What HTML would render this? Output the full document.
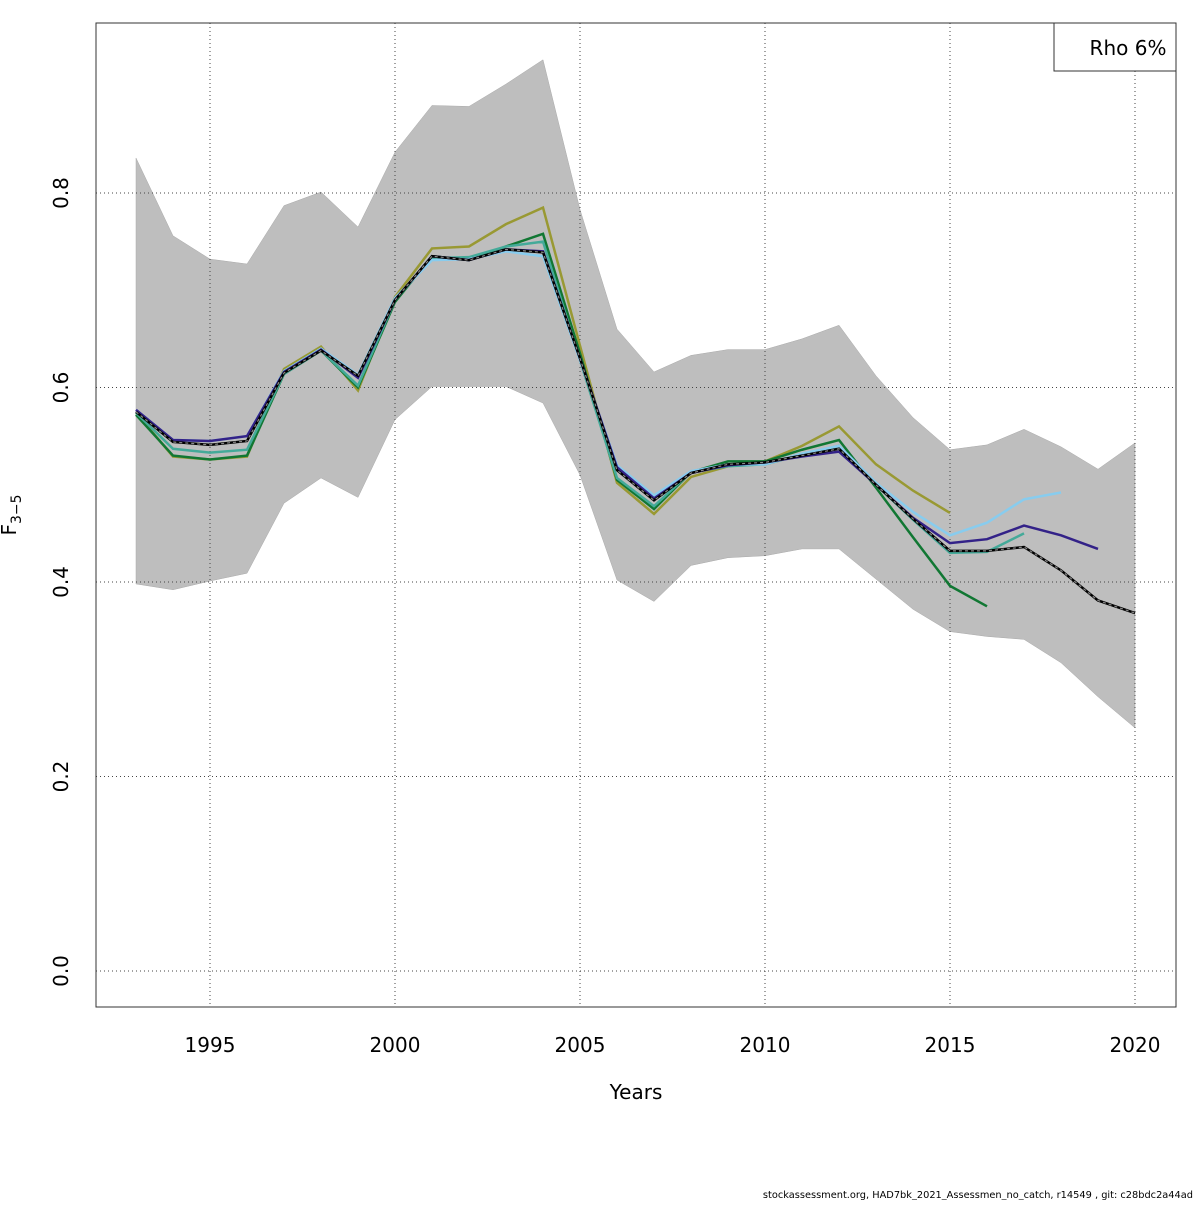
<!DOCTYPE html>
<html><head><meta charset="utf-8"><style>
body{margin:0;background:#fff}
svg text{font-family:"DejaVu Sans","Liberation Sans",sans-serif}
</style></head><body>
<svg id="chart" width="1200" height="1200" xmlns="http://www.w3.org/2000/svg">
<rect width="1200" height="1200" fill="#fff"/>
<g id="band"></g><g id="grid"></g><g id="lines"></g><g id="axes"></g>
</svg>
<script>
const years=[1993,1994,1995,1996,1997,1998,1999,2000,2001,2002,2003,2004,2005,2006,2007,2008,2009,2010,2011,2012,2013,2014,2015,2016,2017,2018,2019,2020];
const bandUpper=[0.836,0.756,0.732,0.727,0.787,0.801,0.765,0.842,0.890,0.889,0.912,0.937,0.783,0.660,0.616,0.633,0.639,0.639,0.650,0.664,0.612,0.569,0.536,0.541,0.557,0.539,0.516,0.543];
const bandLower=[0.398,0.392,0.401,0.409,0.481,0.507,0.487,0.567,0.601,0.601,0.601,0.584,0.510,0.402,0.380,0.417,0.425,0.427,0.434,0.434,0.403,0.372,0.349,0.344,0.341,0.317,0.282,0.250];
const s2020=[0.575,0.544,0.541,0.545,0.615,0.638,0.612,0.690,0.735,0.731,0.742,0.739,0.630,0.515,0.484,0.512,0.521,0.523,0.530,0.537,0.500,0.465,0.432,0.432,0.436,0.412,0.381,0.368];
const s2019=[0.577,0.546,0.545,0.550,0.616,0.639,0.610,0.690,0.735,0.731,0.742,0.740,0.630,0.518,0.486,0.512,0.520,0.523,0.529,0.534,0.500,0.466,0.440,0.444,0.458,0.448,0.434];
const s2018=[0.577,0.546,0.545,0.550,0.617,0.640,0.613,0.692,0.731,0.732,0.740,0.735,0.628,0.520,0.489,0.514,0.521,0.521,0.532,0.540,0.502,0.472,0.448,0.461,0.485,0.492];
const s2017=[0.574,0.537,0.533,0.536,0.614,0.638,0.602,0.690,0.733,0.734,0.745,0.750,0.628,0.507,0.478,0.513,0.519,0.521,0.531,0.540,0.500,0.464,0.430,0.431,0.450];
const s2016=[0.572,0.530,0.526,0.530,0.614,0.638,0.600,0.688,0.735,0.731,0.745,0.758,0.635,0.505,0.475,0.513,0.524,0.524,0.536,0.546,0.497,0.446,0.396,0.375];
const s2015=[0.574,0.529,0.526,0.529,0.619,0.642,0.597,0.693,0.743,0.745,0.768,0.785,0.643,0.502,0.470,0.508,0.519,0.524,0.540,0.560,0.521,0.494,0.471];
const xTicks=[1995,2000,2005,2010,2015,2020];
const yTicks=[0.0,0.2,0.4,0.6,0.8];

const NS="http://www.w3.org/2000/svg";
const X=y=>210+(y-1995)*37;
const Y=v=>971-972.5*v;
function mk(tag,attrs,parent,text){const e=document.createElementNS(NS,tag);for(const k in attrs)e.setAttribute(k,attrs[k]);if(text!==undefined)e.textContent=text;document.getElementById(parent).appendChild(e);return e;}

let pts=years.map((y,i)=>X(y)+","+Y(bandUpper[i]));
for(let i=years.length-1;i>=0;i--)pts.push(X(years[i])+","+Y(bandLower[i]));
const band=mk("polygon",{points:pts.join(" "),fill:"#bebebe",stroke:"#aaa","stroke-width":"0.5"},"band");



xTicks.forEach(t=>{const l=mk("line",{x1:X(t),x2:X(t),y1:23,y2:1007,stroke:"#444","stroke-dasharray":"1,3","stroke-width":"1"},"grid");

});
yTicks.forEach(t=>{const l=mk("line",{x1:96,x2:1176,y1:Y(t),y2:Y(t),stroke:"#444","stroke-dasharray":"1,3","stroke-width":"1"},"grid");

});

const series=[[s2015,"#999933","peel-2015"],[s2016,"#117733","peel-2016"],[s2017,"#44aa99","peel-2017"],[s2018,"#88ccee","peel-2018"],[s2019,"#332288","peel-2019"],[s2020,"#000000","base-run-2020"]];
series.forEach(([d,c,n])=>{
 const p=d.map((v,i)=>X(years[i])+","+Y(v)).join(" ");
 const l=mk("polyline",{points:p,fill:"none",stroke:c,"stroke-width":"2.5"},"lines");
 
 
 if(n==="base-run-2020"){const o=mk("polyline",{points:p,fill:"none",stroke:"#888","stroke-width":"1.2","stroke-dasharray":"3,3"},"lines");
 
 }
});

const frame=mk("rect",{x:96,y:23,width:1080,height:984,fill:"none",stroke:"#333","stroke-width":"1"},"axes");


xTicks.forEach(t=>{const e=mk("text",{x:X(t),y:1052,"font-size":"20","text-anchor":"middle"},"axes",String(t));

});
yTicks.forEach(t=>{const e=mk("text",{x:68,y:Y(t),"font-size":"20","text-anchor":"middle",transform:`rotate(-90 68 ${Y(t)})`},"axes",t.toFixed(1));

});
const xt=mk("text",{x:636,y:1099,"font-size":"20","text-anchor":"middle"},"axes","Years");


const yt=mk("text",{x:16,y:515,"font-size":"20","text-anchor":"middle",transform:"rotate(-90 16 515)"},"axes");


yt.innerHTML='F<tspan font-size="14" dy="5">3−5</tspan>';
const lb=mk("rect",{x:1054,y:23,width:122,height:48,fill:"#fff",stroke:"#333"},"axes");


const lt=mk("text",{x:1128,y:55,"font-size":"20","text-anchor":"middle"},"axes","Rho 6%");


const ft=mk("text",{x:1193,y:1198,"font-size":"9.8","text-anchor":"end"},"axes","stockassessment.org, HAD7bk_2021_Assessmen_no_catch, r14549 , git: c28bdc2a44ad");


</script>
</body></html>
